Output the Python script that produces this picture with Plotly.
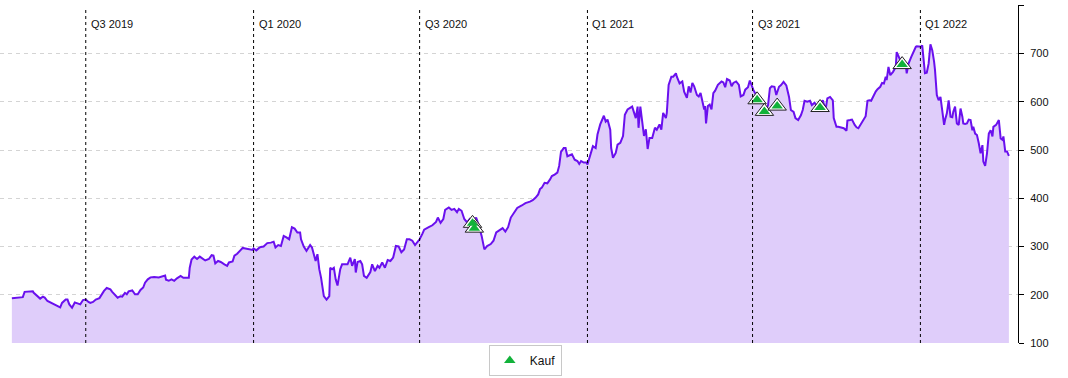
import pandas as pd
import plotly.graph_objects as go

# ---- data ----
base_date = "2019-07-01"  # day offsets below are counted from this date

day_offset = [
    -81, -77, -73, -69, -67, -62, -58, -57, -53, -50, -47, -45, -42, -38, -35, -31, -28, -26, -22, -20,
    -18, -15, -12, -9, -6, -3, 0, 3, 5, 8, 11, 15, 17, 20, 23, 27, 29, 32, 35, 38,
    40, 43, 45, 47, 51, 54, 57, 60, 63, 65, 68, 71, 75, 80, 84, 87, 88, 91, 94, 97,
    100, 104, 107, 111, 113, 114, 116, 119, 122, 125, 128, 131, 135, 138, 140, 142, 145, 148, 152, 155,
    157, 161, 163, 166, 170, 172, 175, 179, 183, 184, 187, 190, 192,
    195, 199, 203, 206, 208, 211, 214, 217, 220, 223, 226, 229, 232, 235, 236, 239, 242, 246, 248, 250,
    252, 254, 256, 258, 259, 261, 264, 267, 268, 270, 272, 274, 276, 279, 281, 285, 287, 290, 292, 295,
    296, 298, 301, 303, 305, 308, 310, 312, 314, 317, 320, 322, 325, 328, 331, 334, 337, 340, 343, 346,
    349, 352, 355, 358, 361, 363, 366, 369, 371, 376, 380, 384, 386, 389, 392, 394, 398, 401, 404, 407,
    409, 412, 415, 418, 421, 425, 428, 431, 434, 437, 440, 444, 447, 450, 453, 457, 460, 463, 466,
    469, 473, 478, 482, 487, 490,
    493, 496, 498, 500, 503, 506, 509, 511, 514, 517, 519, 521, 524, 526, 528, 531, 533, 536, 539, 541,
    543, 546, 549, 550, 553, 556, 559, 561, 564, 566, 568, 570, 572, 575, 576, 578, 581, 583, 586, 589,
    591, 594, 596, 599, 601, 603, 605, 606, 608, 610, 612, 614, 616, 618, 621, 624, 626, 629, 631, 633,
    636, 637, 639, 642, 644, 647, 648, 651, 654, 656, 659, 661, 663, 665, 667, 670, 672, 674, 676, 678,
    679, 680, 682, 684, 686, 688, 690, 693, 697, 699, 701, 703, 706, 708, 710, 713, 716, 718, 721, 723,
    726, 728,
    732, 734, 737, 740, 743, 745, 748, 750, 752, 755, 757, 760, 762, 765, 768, 771, 773, 776, 778, 781,
    784, 786, 788, 791, 794, 796, 799, 802, 805, 808, 811, 813, 816, 819, 820, 823, 825, 828, 831, 834,
    835, 838, 840, 843, 845, 847, 850, 853, 855, 857, 859, 861, 863, 866, 868, 871, 873, 875, 877, 878,
    880, 882, 885, 888, 889, 891, 893, 896, 899, 900, 902, 905, 907, 910, 911, 914, 916, 917, 919, 920,
    922, 924, 926, 928, 930, 931, 933, 935, 937, 939, 941, 942, 944, 946, 948, 950, 951, 953, 955, 957,
    959, 961, 962, 964, 966, 968, 970, 972, 973, 975, 977, 979, 981, 983, 984, 986, 988, 990, 992, 994,
    995, 998, 1000, 1001, 1003, 1005, 1006, 1008, 1010, 1012,
]

price = [
    193, 194, 195, 195, 206, 207, 207, 204, 197, 192, 196, 194, 187, 183, 181, 176, 174, 183, 190, 190,
    180, 173, 184, 182, 180, 189, 190, 185, 183, 185, 190, 193, 199, 208, 214, 211, 206, 199, 194, 197,
    196, 204, 201, 207, 209, 201, 201, 210, 215, 225, 232, 236, 237, 236, 238, 240, 231, 229, 232, 229,
    234, 239, 235, 235, 235, 256, 273, 279, 274, 279, 274, 271, 274, 282, 281, 265, 270, 268, 263, 260,
    267, 269, 281, 285, 293, 297, 296, 294, 293, 296, 292, 297, 299,
    300, 307, 308, 310, 298, 303, 301, 322, 319, 315, 340, 337, 329, 329, 315, 300, 291, 303, 298, 284,
    270, 284, 253, 235, 218, 197, 190, 197, 256, 253, 256, 232, 219, 253, 263, 263, 263, 277, 260, 274,
    246, 268, 270, 263, 239, 235, 242, 247, 263, 249, 260, 256, 267, 256, 272, 270, 277, 301, 300, 288,
    294, 315, 315, 312, 303, 308, 315, 326, 335, 340, 344, 351, 360, 349, 357, 376, 381, 376, 378, 371,
    378, 374, 357, 350, 357, 351, 360, 343, 322, 294, 301, 305, 312, 329, 333, 338, 331, 340, 360,
    368, 380, 385, 390, 393, 396,
    401, 408, 419, 422, 432, 431, 439, 446, 449, 453, 467, 496, 504, 504, 487, 489, 491, 480, 477, 471,
    477, 474, 474, 470, 487, 508, 504, 532, 553, 563, 571, 559, 563, 542, 504, 484, 494, 511, 515, 529,
    573, 584, 587, 590, 578, 566, 590, 546, 590, 563, 529, 543, 502, 525, 525, 546, 542, 553, 542, 577,
    566, 577, 635, 652, 652, 659, 652, 638, 642, 621, 608, 632, 619, 639, 632, 614, 611, 618, 601, 584,
    591, 555, 591, 594, 584, 618, 623, 635, 642, 640, 630, 647, 644, 632, 639, 642, 635, 611, 614, 625,
    630, 644,
    624, 617, 614, 607, 600, 579, 593, 628, 632, 631, 614, 631, 634, 641, 634, 610, 583, 579, 566, 562,
    572, 583, 602, 600, 602, 593, 598, 590, 597, 603, 583, 607, 610, 603, 566, 548, 548, 547, 545, 540,
    561, 562, 563, 552, 547, 545, 554, 563, 570, 602, 603, 602, 610, 621, 626, 631, 639, 638, 652, 645,
    672, 655, 662, 672, 703, 693, 686, 683, 676, 659, 679, 693, 703, 714, 715, 715, 714, 717, 683, 659,
    660, 679, 719, 707, 683, 666, 614, 603, 610, 583, 552, 562, 576, 603, 569, 568, 579, 590, 555, 552,
    586, 569, 555, 554, 555, 563, 562, 541, 548, 534, 531, 514, 493, 510, 476, 467, 493, 534, 541, 528,
    548, 552, 559, 562, 524, 521, 528, 497, 497, 488,
]

buy_day_offset = [424, 426, 736, 744, 758, 805, 895]
buy_price = [348, 338, 604, 580, 591, 588, 677]

quarter_dates = ["2019-07-01", "2020-01-01", "2020-07-01", "2021-01-01", "2021-07-01", "2022-01-01"]
quarter_labels = ["Q3 2019", "Q1 2020", "Q3 2020", "Q1 2021", "Q3 2021", "Q1 2022"]

y_ticks = [100, 200, 300, 400, 500, 600, 700, 800]
x_window = ["2019-03-29", "2022-04-18"]

# ---- build ----
base = pd.Timestamp(base_date)
dates = base + pd.to_timedelta(day_offset, unit="D")
buy_dates = base + pd.to_timedelta(buy_day_offset, unit="D")

FONT = "Liberation Sans, Arial, Helvetica, sans-serif"

fig = go.Figure()
fig.add_trace(go.Scatter(
    x=dates, y=price, mode="lines",
    line=dict(color="#6a10ee", width=2),
    fill="tozeroy", fillcolor="#dfcdfa",
    showlegend=False, hoverinfo="skip",
))
# white halo / dark outline under the buy markers
fig.add_trace(go.Scatter(
    x=buy_dates, y=buy_price, mode="markers",
    marker=dict(symbol="triangle-up", size=16, color="white",
                line=dict(color="#222222", width=1)),
    showlegend=False, hoverinfo="skip",
))
fig.add_trace(go.Scatter(
    x=buy_dates, y=buy_price, mode="markers", name="Kauf",
    marker=dict(symbol="triangle-up", size=10, color="#12b23a",
                line=dict(width=0)),
))

for d, lab in zip(quarter_dates, quarter_labels):
    fig.add_shape(type="line", x0=d, x1=d, xref="x", yref="paper", y0=0, y1=0.99,
                  line=dict(color="black", width=1, dash="3px,3px"), layer="above")
    fig.add_annotation(x=d, xref="x", y=0.945, yref="paper", text=lab, showarrow=False,
                       xanchor="left", yanchor="middle", xshift=3,
                       font=dict(family=FONT, size=11, color="#111"))

fig.update_layout(
    width=1068, height=378,
    margin=dict(l=0, r=50, t=5, b=35, autoexpand=False),
    paper_bgcolor="white", plot_bgcolor="white",
    font=dict(family=FONT, size=11, color="#111"),
    xaxis=dict(range=x_window, showgrid=False, showticklabels=False, zeroline=False,
               showline=False, ticks=""),
    yaxis=dict(range=[100, 800.5], side="right", tickvals=y_ticks,
               showgrid=True, gridcolor="#d4d4d4", griddash="4px,4px", gridwidth=1,
               zeroline=False, showline=True, linecolor="black", linewidth=1,
               ticks="outside", ticklen=5, tickcolor="black", ticklabelstandoff=4,
               tickfont=dict(family=FONT, size=11, color="#111")),
    legend=dict(orientation="h", x=0.516, xanchor="center",
                yref="container", y=0.005, yanchor="bottom",
                bordercolor="#c8c8c8", borderwidth=1, bgcolor="white",
                itemwidth=30,
                font=dict(family=FONT, size=12, color="#111")),
    showlegend=True,
)

fig.write_html("out.html", config={"displayModeBar": False},
               post_script="document.body.style.margin='0';document.body.style.overflow='hidden';")
